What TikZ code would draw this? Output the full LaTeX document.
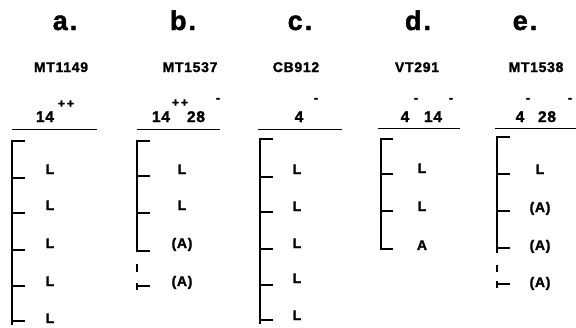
\documentclass[tikz,border=0pt]{standalone}
\usepackage{fontspec}
\setmainfont{Liberation Sans}
% heavy, slightly spaced sans for all labels
\newfontfamily\hv[LetterSpace=5,FakeBold=1.6]{Liberation Sans Bold}
\newfontfamily\hvplain[FakeBold=1.6]{Liberation Sans Bold}

\tikzset{
  panel/.style={font=\hv\fontsize{27}{27}\selectfont, inner sep=0pt, anchor=base},
  strain/.style={font=\hv\fontsize{14}{14}\selectfont, inner sep=0pt, anchor=base},
  gene/.style={font=\hv\fontsize{15.5}{15.5}\selectfont, inner sep=0pt, anchor=base},
  supmark/.style={font=\hvplain\fontsize{12}{12}\selectfont, inner sep=0pt, anchor=center},
  cls/.style={font=\hv\fontsize{14}{14}\selectfont, inner sep=0pt, anchor=base},
  headrule/.style={line width=1.4pt},
  bracket/.style={line width=1.3pt},
}

\begin{document}
\begin{tikzpicture}[x=1pt,y=-1pt]
\useasboundingbox (0,0) rectangle (576,327);

% panel letters
\node[panel] (pa) at (65,30) {a\kern2pt.};
\node[panel] (pb) at (183,30) {b\kern2pt.};
\node[panel] (pc) at (300,30) {c\kern2pt.};
\node[panel] (pd) at (418,30) {d\kern2pt.};
\node[panel] (pe) at (525,30) {e\kern2pt.};

% strain names
\node[strain] (sa) at (61,72) {MT1149};
\node[strain] (sb) at (190,72) {MT1537};
\node[strain] (sc) at (296,72) {CB912};
\node[strain] (sd) at (417,72) {VT291};
\node[strain] (se) at (536,72) {MT1538};

% genotype headers
\node[gene] (ga1) at (45,122) {14};
\node[supmark] (ga1s) at (66,104) {+\kern2pt+};
\node[gene] (gb1) at (161,122) {14};
\node[supmark] (gb1s) at (180,103) {+\kern2pt+};
\node[gene] (gb2) at (196,122) {28};
\node[supmark] (gb2s) at (218,100) {-};
\node[gene] (gc1) at (299,122) {4};
\node[supmark] (gc1s) at (316,100) {-};
\node[gene] (gd1) at (405,122) {4};
\node[supmark] (gd1s) at (416,100) {-};
\node[gene] (gd2) at (433,122) {14};
\node[supmark] (gd2s) at (451,100) {-};
\node[gene] (ge1) at (520,122) {4};
\node[supmark] (ge1s) at (528,100) {-};
\node[gene] (ge2) at (547,122) {28};
\node[supmark] (ge2s) at (570,100) {-};

% rules under the headers
\draw[headrule] (12,129.5) -- (97,129.5);
\draw[headrule] (137,129.5) -- (220,129.5);
\draw[headrule] (258,129.5) -- (342,129.5);
\draw[headrule] (378,128.5) -- (460,128.5);
\draw[headrule] (495,128.5) -- (576,128.5);

% column a: solid bracket
\draw[bracket] (25,141) -- (12,141) -- (12,325);
\foreach \y in {178,213,250,286,321} \draw[bracket] (12,\y) -- (25,\y);
\foreach \y/\t [count=\i] in {174/L,210/L,248/L,286/L,323/L}
  \node[cls] (la\i) at (50,\y) {\t};

% column b: solid part, gap, detached last step
\draw[bracket] (150,141) -- (137,141) -- (137,251) -- (150,251);
\foreach \y in {176,213} \draw[bracket] (137,\y) -- (150,\y);
\draw[bracket] (137,264) -- (137,272);
\draw[bracket] (137,283) -- (137,290);
\draw[bracket] (137,286) -- (150,286);
\foreach \y/\t [count=\i] in {174/L,210/L,248/(A),286/(A)}
  \node[cls] (lb\i) at (182,\y) {\t};

% column c: solid bracket
\draw[bracket] (273,139) -- (260,139) -- (260,324);
\foreach \y in {177,212,249,285,320} \draw[bracket] (260,\y) -- (273,\y);
\foreach \y/\t [count=\i] in {174/L,211/L,248/L,283/L,320/L}
  \node[cls] (lc\i) at (297,\y) {\t};

% column d: short solid bracket
\draw[bracket] (393,139) -- (381,139) -- (381,249) -- (393,249);
\foreach \y in {174,211} \draw[bracket] (381,\y) -- (393,\y);
\foreach \y/\t [count=\i] in {173/L,211/L,250/A}
  \node[cls] (ld\i) at (422,\y) {\t};

% column e: solid part, gap, detached last step
\draw[bracket] (510,137) -- (497,137) -- (497,253);
\foreach \y in {174,211,248} \draw[bracket] (497,\y) -- (510,\y);
\draw[bracket] (497,265) -- (497,272);
\draw[bracket] (497,281) -- (497,288);
\draw[bracket] (497,284) -- (510,284);
\foreach \y/\t [count=\i] in {174/L,212/(A),250/(A),287/(A)}
  \node[cls] (le\i) at (540,\y) {\t};
\end{tikzpicture}
\end{document}
